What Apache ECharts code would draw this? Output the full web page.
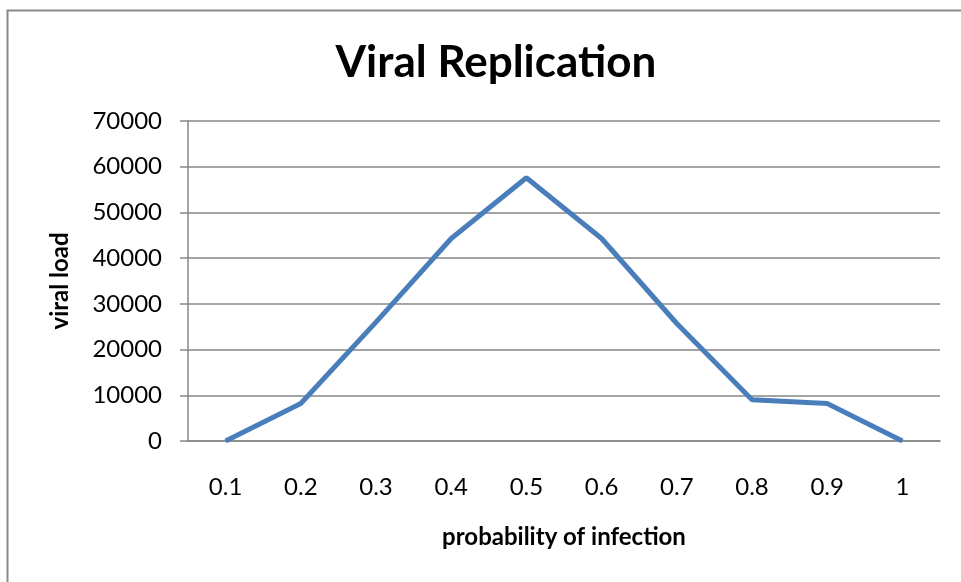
<!DOCTYPE html>
<html>
<head>
<meta charset="utf-8">
<script src="https://cdn.jsdelivr.net/npm/echarts@6/dist/echarts.min.js"></script>
<style>
html,body{margin:0;padding:0;background:#fff;}
#chart{width:961px;height:582px;}
</style>
</head>
<body>
<div id="chart"></div>
<script>
const categories = ['0.1','0.2','0.3','0.4','0.5','0.6','0.7','0.8','0.9','1'];
const viralLoad = [0, 8200, 26000, 44300, 57600, 44300, 25700, 9000, 8200, 0];
const titleText = 'Viral Replication';
const xName = 'probability of infection';
const yName = 'viral load';

const chart = echarts.init(document.getElementById('chart'), null, {renderer:'canvas'});
const font = 'Lato';
chart.setOption({
  animation:false,
  backgroundColor:'#ffffff',
  graphic:[{
    type:'rect', left:5, top:8, z:-1,
    shape:{x:0,y:0,width:1000,height:1000},
    style:{fill:'none', stroke:'#8a8a8a', lineWidth:2}
  }],
  title:{
    text:titleText, left:491, top:36, textAlign:'center',
    textStyle:{fontFamily:font, fontWeight:'bold', fontSize:44, color:'#000'}
  },
  grid:{left:188, right:21, top:121, bottom:141, containLabel:false},
  xAxis:{
    type:'category', data:categories, boundaryGap:true,
    name:xName, nameLocation:'middle', nameGap:84,
    nameTextStyle:{fontFamily:font, fontWeight:'bold', fontSize:24, color:'#000'},
    axisLine:{lineStyle:{color:'#868686', width:1.5}},
    axisTick:{show:false},
    axisLabel:{fontFamily:font, fontSize:24, color:'#000', margin:34}
  },
  yAxis:{
    type:'value', min:0, max:70000, interval:10000,
    name:yName, nameLocation:'middle', nameGap:116, nameRotate:90,
    nameTextStyle:{fontFamily:font, fontWeight:'bold', fontSize:24, color:'#000'},
    axisLine:{show:true, lineStyle:{color:'#868686', width:1.5}},
    axisTick:{show:true, length:8, lineStyle:{color:'#868686', width:1.5}},
    axisLabel:{fontFamily:font, fontSize:24, color:'#000', margin:26,
      formatter:function(v){return String(v);}},
    splitLine:{lineStyle:{color:'#868686', width:1.5}}
  },
  series:[{
    type:'line', data:viralLoad, showSymbol:false, symbol:'none',
    lineStyle:{color:'#4A7EBB', width:5}
  }]
});
</script>
</body>
</html>
